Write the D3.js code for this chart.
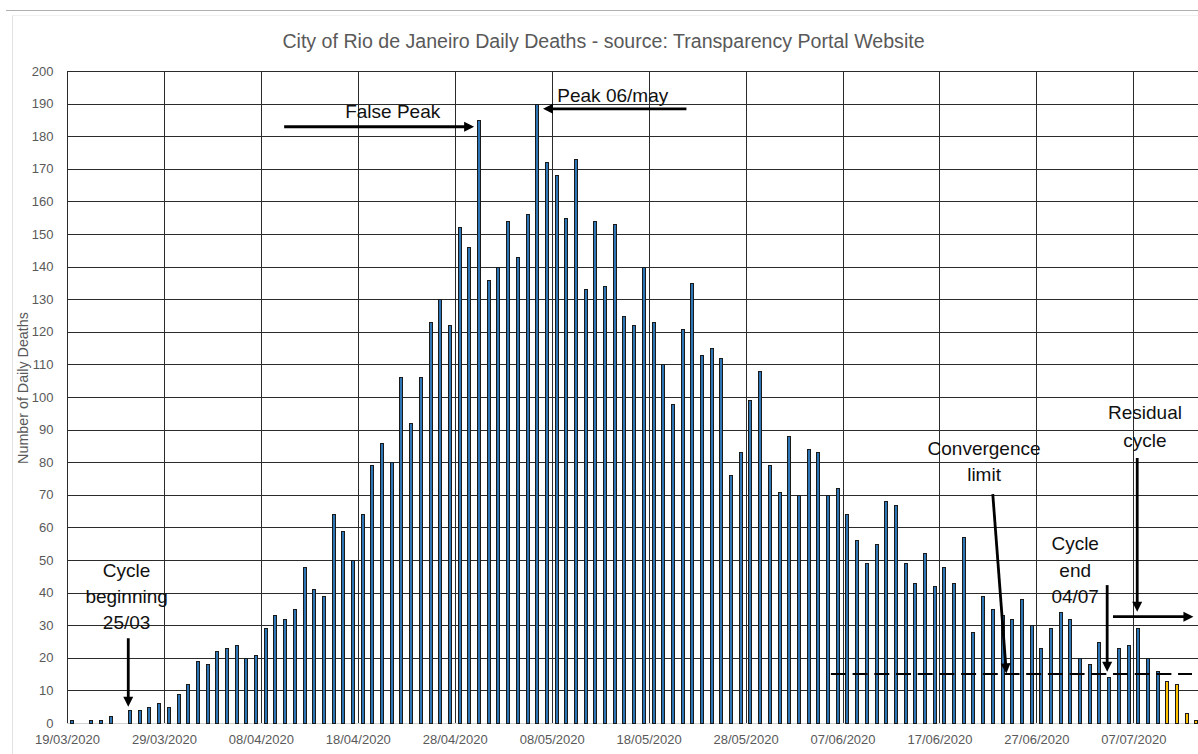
<!DOCTYPE html>
<html><head><meta charset="utf-8">
<script src="https://cdn.jsdelivr.net/npm/d3@7"></script>
<style>html,body{margin:0;padding:0;background:#fff;overflow:hidden}</style>
</head><body><svg id="chart" width="1198" height="754"></svg>
<script>
// ---------------- DATA ----------------
const startDate = "2020-03-19";
const dayCount = 117; // 19/03/2020 .. 13/07/2020
const deaths = [
  1, 0, 1, 1, 2, 0, 4, 4, 5, 6,
  5, 9, 12, 19, 18, 22, 23, 24, 20, 21,
  29, 33, 32, 35, 48, 41, 39, 64, 59, 50,
  64, 79, 86, 80, 106, 92, 106, 123, 130, 122,
  152, 146, 185, 136, 140, 154, 143, 156, 190, 172,
  168, 155, 173, 133, 154, 134, 153, 125, 122, 140,
  123, 110, 98, 121, 135, 113, 115, 112, 76, 83,
  99, 108, 79, 71, 88, 70, 84, 83, 70, 72,
  64, 56, 49, 55, 68, 67, 49, 43, 52, 42,
  48, 43, 57, 28, 39, 35, 33, 32, 38, 30,
  23, 29, 34, 32, 20, 18, 25, 14, 23, 24,
  29, 20, 16, 13, 12, 3, 1
];
const residualStartIndex = 113; // 10/07 onwards shown in yellow
const yTickValues = d3.range(0, 201, 10);
const xTickEveryDays = 10;
const convergenceLimit = 15;
const chartTitle = "City of Rio de Janeiro Daily Deaths - source: Transparency Portal Website";
const yAxisTitle = "Number of Daily Deaths";

// annotations in data space: day offset from start, value
const annotationTexts = [
  {lines: ["False Peak"], day: 33.6, v: [185.6]},
  {lines: ["Peak 06/may"], day: 56.3, v: [190.5]},
  {lines: ["Cycle", "beginning", "25/03"], day: 6.15, v: [44.7, 36.7, 28.7]},
  {lines: ["Convergence", "limit"], day: 94.6, v: [82.2, 74.1]},
  {lines: ["Cycle", "end", "04/07"], day: 104.0, v: [53.1, 44.9, 36.8]},
  {lines: ["Residual", "cycle"], day: 111.2, v: [93.3, 84.8]}
];
const annotationArrows = [
  {from: [22.4, 182.9], to: [42.0, 182.9]},
  {from: [63.9, 188.4], to: [49.1, 188.4]},
  {from: [6.32, 26.0], to: [6.32, 5.0]},
  {from: [95.5, 70.2], to: [96.9, 15.2]},
  {from: [107.3, 42.3], to: [107.3, 15.7]},
  {from: [110.4, 81.3], to: [110.4, 34.1]},
  {from: [107.9, 32.6], to: [116.2, 32.6]}
];

// ---------------- LAYOUT ----------------
const W = 1198, H = 754;
const plotLeft = 67, plotTop = 71, plotBottom = 723, dayStep = 9.694;
const gray = "#595959";
const fontFamily = "'Liberation Sans', Arial, sans-serif";

const svg = d3.select("#chart");
svg.append("rect").attr("width", W).attr("height", H).attr("fill", "#fff");

// frame lines (screenshot border)
svg.append("line").attr("x1", 6).attr("x2", W).attr("y1", 10.5).attr("y2", 10.5)
  .attr("stroke", "#b0b0b0").attr("stroke-width", 1);
svg.append("line").attr("x1", 12.5).attr("x2", 12.5).attr("y1", 15).attr("y2", H)
  .attr("stroke", "#e3e3e3").attr("stroke-width", 1);
svg.append("line").attr("x1", 12.5).attr("x2", W).attr("y1", 15.5).attr("y2", 15.5)
  .attr("stroke", "#f0f0f0").attr("stroke-width", 1);

const parse = d3.utcParse("%Y-%m-%d");
const d0 = parse(startDate);
const dates = d3.range(dayCount).map(i => d3.utcDay.offset(d0, i));
const dEnd = d3.utcDay.offset(d0, dayCount);

const x = d3.scaleUtc().domain([d0, dEnd]).range([plotLeft, plotLeft + dayCount * dayStep]);
const y = d3.scaleLinear().domain([0, 200]).range([plotBottom, plotTop]);
const dayX = d => x(new Date(d0.getTime() + d * 864e5));
const plotRight = W;

// horizontal gridlines
svg.append("g").selectAll("line").data(yTickValues.filter(v => v > 0)).join("line")
  .attr("x1", plotLeft).attr("x2", plotRight)
  .attr("y1", d => Math.round(y(d)) + 0.5).attr("y2", d => Math.round(y(d)) + 0.5)
  .attr("stroke", "#2b2b2b").attr("stroke-width", 1);

// vertical gridlines
const tickDates = dates.filter((d, i) => i % xTickEveryDays === 0);
svg.append("g").selectAll("line").data(tickDates).join("line")
  .attr("x1", d => Math.round(x(d)) + 0.5).attr("x2", d => Math.round(x(d)) + 0.5)
  .attr("y1", Math.round(y(200)) + 0.5).attr("y2", y(0))
  .attr("stroke", "#2b2b2b").attr("stroke-width", 1);

// x axis baseline
svg.append("line").attr("x1", plotLeft).attr("x2", plotRight)
  .attr("y1", Math.round(y(0)) + 0.5).attr("y2", Math.round(y(0)) + 0.5)
  .attr("stroke", "#d0d0d0").attr("stroke-width", 1);

// bars (snapped to the pixel grid for crisp outlines)
const barOffset = 4.4, barW = 3;
svg.append("g").selectAll("rect")
  .data(deaths.map((v, i) => ({v, i, date: dates[i]})).filter(d => d.v > 0))
  .join("rect")
  .attr("x", d => Math.round(x(d.date) + barOffset - barW / 2) + 0.5)
  .attr("width", barW)
  .attr("y", d => Math.round(y(d.v)) + 0.5)
  .attr("height", d => Math.round(y(0)) - Math.round(y(d.v)))
  .attr("fill", d => d.i >= residualStartIndex ? "#ffc000" : "#2e75b6")
  .attr("stroke", "#1a1a1a").attr("stroke-width", 1);

// y axis
const yAxis = d3.axisLeft(y).tickValues(yTickValues).tickSize(0).tickPadding(13.5);
const gy = svg.append("g").attr("transform", `translate(${plotLeft},0)`).call(yAxis);
gy.select(".domain").remove();
gy.selectAll("text").attr("fill", gray).attr("font-size", 13).attr("font-family", fontFamily);

// x axis
const fmt = d3.utcFormat("%d/%m/%Y");
const xAxis = d3.axisBottom(x).tickValues(tickDates).tickFormat(fmt).tickSize(0).tickPadding(12);
const gx = svg.append("g").attr("transform", `translate(0,${plotBottom})`).call(xAxis);
gx.select(".domain").remove();
gx.selectAll("text").attr("fill", gray).attr("font-size", 13).attr("font-family", fontFamily);

// title
svg.append("text").attr("x", 603.5).attr("y", 47.7).attr("text-anchor", "middle")
  .attr("fill", gray).attr("font-size", 19.6).attr("font-family", fontFamily).text(chartTitle);

// y axis title
svg.append("text").attr("transform", `translate(28,388) rotate(-90)`).attr("text-anchor", "middle")
  .attr("fill", gray).attr("font-size", 14.3).attr("font-family", fontFamily).text(yAxisTitle);

// convergence dashed line
svg.append("line")
  .attr("x1", dayX(78.8)).attr("x2", dayX(116.05))
  .attr("y1", y(convergenceLimit)).attr("y2", y(convergenceLimit))
  .attr("stroke", "#000").attr("stroke-width", 2).attr("stroke-dasharray", "15,6.7");

// annotation texts
annotationTexts.forEach(a => {
  a.lines.forEach((t, k) => {
    svg.append("text").attr("x", dayX(a.day)).attr("y", y(a.v[k]))
      .attr("text-anchor", "middle").attr("fill", "#111")
      .attr("font-size", 19).attr("font-family", fontFamily).text(t);
  });
});

// arrows
const ag = svg.append("g");
annotationArrows.forEach(a => {
  const x1 = dayX(a.from[0]), y1 = y(a.from[1]);
  const x2 = dayX(a.to[0]), y2 = y(a.to[1]);
  const len = Math.hypot(x2 - x1, y2 - y1);
  const ux = (x2 - x1) / len, uy = (y2 - y1) / len;
  const headL = 10, headW = 5;
  ag.append("line").attr("x1", x1).attr("y1", y1)
    .attr("x2", x2 - ux * (headL - 2)).attr("y2", y2 - uy * (headL - 2))
    .attr("stroke", "#000").attr("stroke-width", 2.8);
  const bx = x2 - ux * headL, by = y2 - uy * headL;
  ag.append("path")
    .attr("d", `M${x2},${y2}L${bx - uy * headW},${by + ux * headW}L${bx + uy * headW},${by - ux * headW}Z`)
    .attr("fill", "#000");
});
</script></body></html>
